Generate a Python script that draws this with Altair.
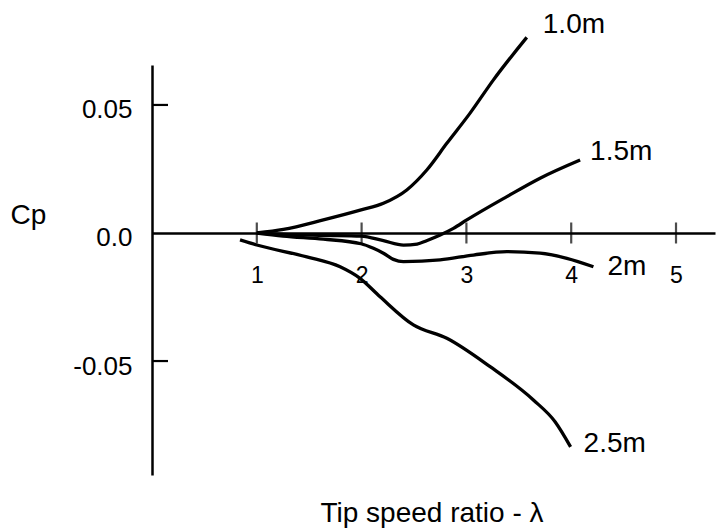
import altair as alt
import pandas as pd

# ---- data ----
series_names = ["1.0m", "1.5m", "2m", "2.5m"]

tsr_10 = [1.0, 1.254, 1.635, 1.995, 2.208, 2.431, 2.622, 2.813, 3.035, 3.258, 3.576]
cp_10 = [0.0, 0.0014, 0.0051, 0.0090, 0.0116, 0.0168, 0.0246, 0.0350, 0.0468, 0.0598, 0.0764]

tsr_15 = [1.0, 1.25, 1.635, 1.995, 2.208, 2.40, 2.53, 2.62, 2.75, 2.876, 3.004, 3.386, 3.703, 4.085]
cp_15 = [0.0, -0.0005, -0.0009, -0.0012, -0.0030, -0.0047, -0.0043, -0.0030, -0.0008, 0.0018, 0.0051, 0.0142, 0.0214, 0.0285]

tsr_20 = [1.0, 1.25, 1.635, 1.995, 2.113, 2.208, 2.303, 2.399, 2.749, 3.067, 3.386, 3.703, 3.958, 4.212]
cp_20 = [0.0, -0.0012, -0.0024, -0.0042, -0.0060, -0.0079, -0.0103, -0.0112, -0.0105, -0.0086, -0.0073, -0.0079, -0.0099, -0.0132]

tsr_25 = [0.84, 1.0, 1.477, 1.795, 1.985, 2.176, 2.494, 2.813, 3.226, 3.639, 3.846, 3.994]
cp_25 = [-0.0027, -0.0047, -0.0093, -0.0132, -0.0177, -0.0249, -0.0359, -0.0411, -0.0522, -0.0652, -0.0737, -0.0835]

x_ticks = [1, 2, 3, 4, 5]
y_ticks = [-0.05, 0.0, 0.05]
y_inner_ticks = [-0.05, 0.05]

x_title = "Tip speed ratio - λ"
y_title = "Cp"

# ---- build tables ----
rows = []
for name, xs, ys in zip(series_names, [tsr_10, tsr_15, tsr_20, tsr_25], [cp_10, cp_15, cp_20, cp_25]):
    for i, (a, b) in enumerate(zip(xs, ys)):
        rows.append({"series": name, "tsr": a, "cp": b, "order": i})
df = pd.DataFrame(rows)
ends = df.sort_values("order").groupby("series", as_index=False).last()

FONT = "Liberation Sans"
xscale = alt.Scale(domain=[0, 5.372], nice=False, zero=False)
yscale = alt.Scale(domain=[-0.0945, 0.0656], nice=False, zero=False)

x_axis = alt.Axis(
    orient="bottom", offset=-242, values=x_ticks, ticks=False, format="d",
    domain=True, domainColor="black", domainWidth=2.5,
    grid=False, labelFont=FONT, labelFontSize=23, labelColor="black",
    labelBaseline="alphabetic", labelPadding=49,
    title=x_title, titleFont=FONT, titleFontSize=28, titleFontWeight="normal",
    titleColor="black", titleX=279.5, titleY=288, titleAlign="center",
    titleBaseline="alphabetic", titleAnchor="middle",
)
y_axis = alt.Axis(
    orient="left", values=y_ticks, ticks=False,
    domain=True, domainColor="black", domainWidth=2.5, grid=False,
    labelExpr="datum.value == 0 ? '0.0' : (datum.value < 0 ? '-' + format(-datum.value, '.2f') : format(datum.value, '.2f'))",
    labelFont=FONT, labelFontSize=26, labelColor="black", labelPadding=20,
    labelOffset=5,
    title=y_title, titleFont=FONT, titleFontSize=28, titleFontWeight="normal",
    titleColor="black", titleAngle=0, titleX=-142, titleY=158,
    titleAlign="left", titleBaseline="alphabetic",
)

lines = alt.Chart(df).mark_line(
    color="black", strokeWidth=3.3, interpolate="monotone", clip=False
).encode(
    x=alt.X("tsr:Q", scale=xscale, axis=x_axis),
    y=alt.Y("cp:Q", scale=yscale, axis=y_axis),
    detail="series:N",
    order="order:Q",
)

xt = alt.Chart(pd.DataFrame({"t": x_ticks, "z": [0.0] * len(x_ticks)})).mark_tick(
    orient="vertical", color="black", size=21, thickness=2.2
).encode(
    x=alt.X("t:Q", scale=xscale, axis=x_axis),
    y=alt.Y("z:Q", scale=yscale, axis=y_axis),
)

yt = alt.Chart(pd.DataFrame({"v": y_inner_ticks})).mark_rule(
    color="black", strokeWidth=2.2
).encode(
    y=alt.Y("v:Q", scale=yscale, axis=y_axis),
    x=alt.value(0),
    x2=alt.value(16),
)

label_offsets = {"1.0m": (16, -4), "1.5m": (10, 0), "2m": (14, 8), "2.5m": (13, 5)}
label_layers = []
for name in series_names:
    dx, dy = label_offsets[name]
    label_layers.append(
        alt.Chart(ends[ends["series"] == name]).mark_text(
            align="left", baseline="alphabetic", dx=dx, dy=dy,
            font=FONT, fontSize=28, color="black"
        ).encode(
            x=alt.X("tsr:Q", scale=xscale, axis=x_axis),
            y=alt.Y("cp:Q", scale=yscale, axis=y_axis),
            text="series:N",
        )
    )

chart = alt.layer(lines, xt, yt, *label_layers).properties(
    width=563, height=410,
    padding={"left": 152, "top": 65, "right": 7, "bottom": 55},
    autosize=alt.AutoSizeParams(type="none"),
    background="white",
).configure_view(stroke=None)

chart.save("out.html", embed_options={"renderer": "svg", "actions": False})
